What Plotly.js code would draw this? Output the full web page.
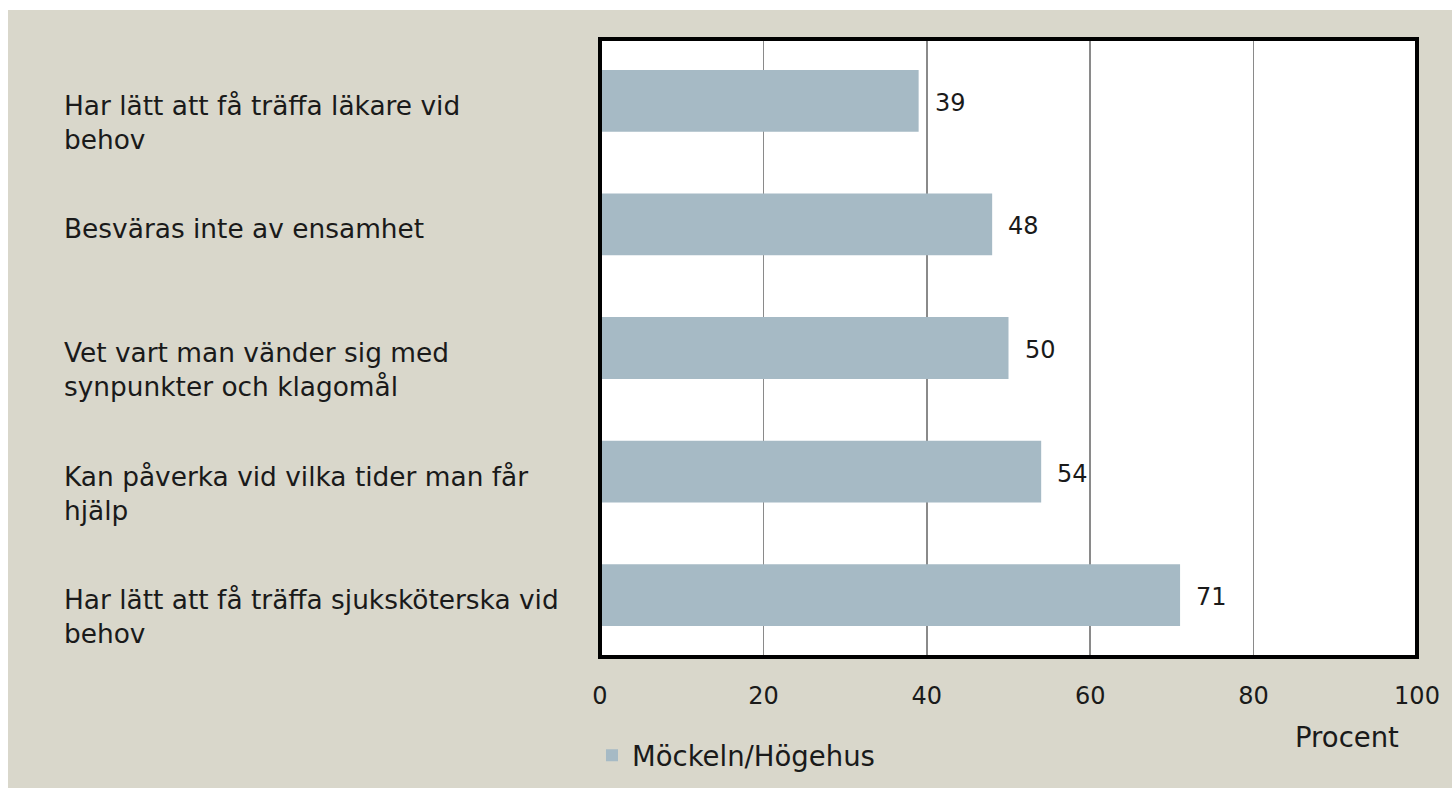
<!DOCTYPE html>
<html>
<head>
<meta charset="utf-8">
<script src="https://cdn.plot.ly/plotly-3.0.1.min.js"></script>
<style>
  html, body { margin: 0; padding: 0; background: #ffffff; }
  #chart { position: absolute; left: 8px; top: 10px; width: 1444px; height: 778px; }
</style>
</head>
<body>
<div id="chart"></div>
<script>
const categories = [
  "Har lätt att få träffa läkare vid<br>behov",
  "Besväras inte av ensamhet",
  "Vet vart man vänder sig med<br>synpunkter och klagomål",
  "Kan påverka vid vilka tider man får<br>hjälp",
  "Har lätt att få träffa sjuksköterska vid<br>behov"
];
const values = [39, 48, 50, 54, 71];
const seriesName = "Möckeln/Högehus";
const xTicks = [0, 20, 40, 60, 80, 100];
const axisTitle = "Procent";

const FONT = "DejaVu Sans, Lato, sans-serif";
const TXT = "#1a1a1a";

const trace = {
  type: "bar",
  orientation: "h",
  y: categories,
  x: values,
  name: seriesName,
  marker: { color: "#a6bac5", line: { width: 0 } },
  width: 0.5,
  showlegend: true,
  hoverinfo: "x"
};

const annotations = [];
categories.forEach((c, i) => {
  annotations.push({
    xref: "paper", yref: "y",
    x: -0.6585, y: c,
    xanchor: "left", yanchor: "top", align: "left",
    yshift: 13,
    text: c, showarrow: false,
    font: { family: FONT, size: 26.4, color: TXT }
  });
  annotations.push({
    xref: "x", yref: "y",
    x: values[i], y: c,
    xanchor: "left", yanchor: "middle",
    xshift: 14, yshift: -2,
    text: String(values[i]), showarrow: false,
    font: { family: FONT, size: 24, color: TXT }
  });
});
annotations.push({
  xref: "paper", yref: "paper",
  x: 0.914, y: -0.13,
  xanchor: "center", yanchor: "middle",
  text: axisTitle, showarrow: false,
  font: { family: FONT, size: 27.5, color: TXT }
});

const layout = {
  width: 1444, height: 778,
  paper_bgcolor: "#d9d7cb",
  plot_bgcolor: "#ffffff",
  margin: { l: 592, r: 35, t: 29, b: 131, pad: 0, autoexpand: false },
  bargap: 0.5,
  xaxis: {
    range: [0, 100],
    tickvals: xTicks,
    ticktext: xTicks.map(String),
    showgrid: true,
    gridcolor: "#8a8a8a",
    gridwidth: 1.5,
    zeroline: false,
    showline: false,
    ticks: "",
    ticklabelstandoff: 22,
    tickfont: { family: FONT, size: 24, color: TXT },
    fixedrange: true
  },
  yaxis: {
    type: "category",
    autorange: "reversed",
    showticklabels: false,
    showgrid: false,
    zeroline: false,
    showline: false,
    ticks: "",
    fixedrange: true
  },
  shapes: [{
    type: "rect", xref: "paper", yref: "paper",
    x0: 0, x1: 1, y0: 0, y1: 1,
    line: { color: "#000000", width: 4 },
    fillcolor: "rgba(0,0,0,0)",
    layer: "above"
  }],
  legend: {
    orientation: "h",
    x: -0.0098, y: -0.159,
    xanchor: "left", yanchor: "middle",
    bgcolor: "rgba(0,0,0,0)",
    font: { family: FONT, size: 27.5, color: TXT }
  },
  annotations: annotations,
  showlegend: true
};

Plotly.newPlot("chart", [trace], layout, { displayModeBar: false, staticPlot: true });
</script>
</body>
</html>
